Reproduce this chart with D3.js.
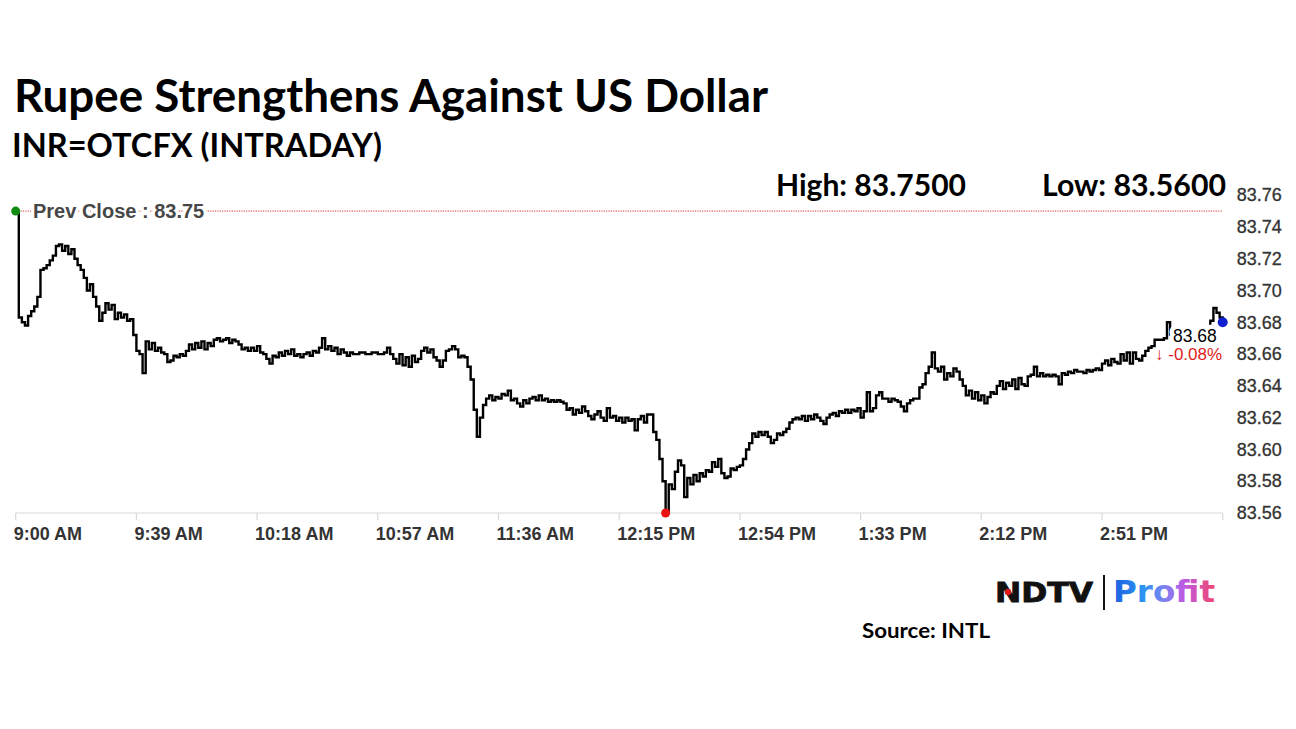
<!DOCTYPE html>
<html><head><meta charset="utf-8">
<script src="https://cdn.jsdelivr.net/npm/d3@7"></script>
<style>body{margin:0;background:#fff}svg{display:block}</style>
</head><body><svg id="c" width="1296" height="729"></svg>
<script>
const title = "Rupee Strengthens Against US Dollar";
const subtitle = "INR=OTCFX (INTRADAY)";
const sourceText = "Source: INTL";
const sessionStart = "09:00";   // one quote per minute from here
const rates = [
83.750,83.683,83.680,83.678,83.684,83.687,83.690,83.696,83.713,83.714,
83.716,83.719,83.722,83.728,83.729,83.725,83.728,83.723,83.726,83.720,
83.716,83.713,83.708,83.700,83.704,83.696,83.690,83.681,83.686,83.692,
83.688,83.691,83.682,83.686,83.683,83.685,83.681,83.682,83.672,83.662,
83.660,83.648,83.668,83.663,83.667,83.662,83.664,83.661,83.660,83.655,
83.656,83.659,83.658,83.660,83.659,83.662,83.666,83.663,83.667,83.664,
83.668,83.663,83.667,83.665,83.669,83.670,83.668,83.669,83.670,83.667,
83.669,83.668,83.666,83.663,83.664,83.662,83.664,83.662,83.665,83.661,
83.660,83.657,83.654,83.659,83.658,83.661,83.659,83.662,83.660,83.663,
83.659,83.660,83.658,83.660,83.661,83.659,83.662,83.661,83.664,83.670,
83.663,83.665,83.662,83.664,83.660,83.663,83.661,83.659,83.661,83.660,
83.660,83.661,83.661,83.660,83.660,83.661,83.661,83.660,83.660,83.661,
83.664,83.660,83.657,83.654,83.660,83.653,83.658,83.652,83.659,83.655,
83.657,83.662,83.664,83.661,83.663,83.658,83.656,83.652,83.656,83.662,
83.663,83.665,83.663,83.658,83.659,83.658,83.652,83.644,83.625,83.608,
83.620,83.628,83.632,83.634,83.631,83.633,83.632,83.635,83.634,83.637,
83.631,83.632,83.629,83.627,83.631,83.629,83.632,83.633,83.631,83.634,
83.631,83.632,83.630,83.631,83.630,83.631,83.630,83.629,83.625,83.626,
83.622,83.625,83.623,83.627,83.624,83.621,83.619,83.622,83.624,83.620,
83.618,83.626,83.620,83.621,83.618,83.620,83.617,83.620,83.618,83.619,
83.612,83.619,83.621,83.617,83.622,83.622,83.611,83.606,83.594,83.580,
83.560,83.578,83.575,83.586,83.593,83.590,83.570,83.582,83.578,83.584,
83.580,83.585,83.583,83.587,83.586,83.592,83.589,83.594,83.585,83.582,
83.583,83.588,83.587,83.589,83.590,83.594,83.600,83.604,83.610,83.608,
83.611,83.609,83.611,83.608,83.604,83.606,83.610,83.609,83.611,83.613,
83.617,83.619,83.620,83.619,83.621,83.618,83.621,83.619,83.622,83.620,
83.618,83.616,83.620,83.622,83.623,83.621,83.624,83.623,83.625,83.623,
83.625,83.624,83.626,83.620,83.624,83.636,83.624,83.626,83.634,83.636,
83.632,83.632,83.630,83.632,83.631,83.630,83.627,83.624,83.629,83.631,
83.632,83.632,83.639,83.641,83.648,83.652,83.661,83.651,83.649,83.652,
83.644,83.648,83.646,83.651,83.649,83.644,83.640,83.634,83.637,83.632,
83.636,83.631,83.634,83.629,83.633,83.636,83.635,83.640,83.643,83.638,
83.642,83.640,83.644,83.638,83.645,83.641,83.640,83.646,83.647,83.652,
83.646,83.648,83.646,83.647,83.646,83.647,83.646,83.641,83.648,83.647,
83.649,83.648,83.650,83.649,83.649,83.648,83.650,83.649,83.650,83.651,
83.650,83.654,83.656,83.653,83.657,83.655,83.654,83.660,83.656,83.661,
83.654,83.661,83.657,83.656,83.659,83.662,83.664,83.665,83.669,83.669,
83.669,83.670,83.680,83.672,83.672,83.671,83.672,83.671,83.672,83.672,
83.671,83.672,83.671,83.672,83.672,83.676,83.681,83.689,83.686,83.683,
83.680
];
const xTickTimes  = ["09:00","09:39","10:18","10:57","11:36","12:15","12:54","13:33","14:12","14:51","15:30"];
const xTickLabels = ["9:00 AM","9:39 AM","10:18 AM","10:57 AM","11:36 AM","12:15 PM","12:54 PM","1:33 PM","2:12 PM","2:51 PM",""];
const yTicks = [83.56,83.58,83.60,83.62,83.64,83.66,83.68,83.70,83.72,83.74,83.76];
const prevClose = 83.75;
const dayHigh = "83.7500";
const dayLow = "83.5600";
const lastLabel = "83.68";
const changeLabel = "\u2193 -0.08%";

const svg = d3.select("#c");
const parse = d3.timeParse("%H:%M");
const t0 = parse(sessionStart);
const data = rates.map((v, i) => ({ t: d3.timeMinute.offset(t0, i), v }));

const x = d3.scaleTime().domain([parse("09:00"), parse("15:30")]).range([15.7, 1222.7]);
const y = d3.scaleLinear().domain([83.56, 83.76]).range([513, 195.2]);

// defs
const defs = svg.append("defs");
const g = defs.append("linearGradient").attr("id", "pg")
  .attr("gradientUnits", "userSpaceOnUse").attr("x1", 1113).attr("x2", 1215).attr("y1", 0).attr("y2", 0);
[[0,"#1d5fe0"],[0.3,"#2c95f2"],[0.5,"#7b82f0"],[0.7,"#bf5ae2"],[1,"#f2456f"]]
  .forEach(([o,c]) => g.append("stop").attr("offset", o).attr("stop-color", c));

// titles
const fitText = (sel, w) => sel.attr("textLength", w).attr("lengthAdjust", "spacingAndGlyphs");
fitText(svg.append("text").attr("x", 14).attr("y", 112).text(title)
  .attr("font-family", "Lato, 'Open Sans', sans-serif").attr("font-weight", 700)
  .attr("font-size", 46).attr("fill", "#000"), 754);
fitText(svg.append("text").attr("x", 12).attr("y", 157).text(subtitle)
  .attr("font-family", "Lato, 'Open Sans', sans-serif").attr("font-weight", 700)
  .attr("font-size", 32).attr("fill", "#000"), 370);
fitText(svg.append("text").attr("x", 776).attr("y", 196).text("High: " + dayHigh)
  .attr("font-family", "Lato, 'Open Sans', sans-serif").attr("font-weight", 700)
  .attr("font-size", 30).attr("fill", "#000"), 190);
fitText(svg.append("text").attr("x", 1042).attr("y", 196).text("Low: " + dayLow)
  .attr("font-family", "Lato, 'Open Sans', sans-serif").attr("font-weight", 700)
  .attr("font-size", 30).attr("fill", "#000"), 184);

// prev close line
svg.append("line").attr("x1", x(data[0].t)).attr("x2", x.range()[1])
  .attr("y1", y(prevClose)).attr("y2", y(prevClose))
  .attr("stroke", "#e03030").attr("stroke-width", 1).attr("stroke-dasharray", "1.2,1.2");

// x axis
const xAxis = svg.append("g").attr("transform", "translate(0,513)");
xAxis.append("line").attr("x1", x.range()[0]).attr("x2", x.range()[1])
  .attr("stroke", "#d8d8d8").attr("stroke-width", 1.2);
xTickTimes.forEach((s, i) => {
  const xx = x(parse(s));
  xAxis.append("line").attr("x1", xx).attr("x2", xx).attr("y1", 0).attr("y2", 7)
    .attr("stroke", "#d8d8d8").attr("stroke-width", 1.2);
  xAxis.append("text").attr("x", xx - 2).attr("y", 27).text(xTickLabels[i])
    .attr("font-family", "'Liberation Sans', Arial, sans-serif").attr("font-weight", 700)
    .attr("font-size", 18).attr("fill", "#333");
});

// y axis labels (right)
const yAxis = d3.axisRight(y).tickValues(yTicks).tickFormat(d3.format(".2f")).tickSize(0).tickPadding(14);
const ya = svg.append("g").attr("transform", `translate(${x.range()[1]},0)`).call(yAxis);
ya.select(".domain").remove();
ya.selectAll("text").attr("font-family", "'Liberation Sans', Arial, sans-serif")
  .attr("font-size", 18).attr("fill", "#333").attr("stroke", "#333").attr("stroke-width", 0.3);

// price line
const line = d3.line().x(d => x(d.t)).y(d => y(d.v)).curve(d3.curveStepAfter);
svg.append("path").datum(data).attr("d", line).attr("fill", "none")
  .attr("stroke", "#000").attr("stroke-width", 2.4).attr("stroke-linejoin", "miter");

// halo labels
const halo = (sel, w) => sel.attr("stroke", "#fff").attr("stroke-width", w)
  .attr("stroke-linejoin", "round").attr("paint-order", "stroke");
halo(svg.append("text").attr("x", 33).attr("y", y(prevClose) + 7).text("Prev Close : " + d3.format(".2f")(prevClose))
  .attr("font-family", "'Liberation Sans', Arial, sans-serif").attr("font-weight", 700)
  .attr("font-size", 20).attr("fill", "#474747"), 6);
const last = data[data.length - 1];
halo(svg.append("text").attr("x", 1173).attr("y", 342).text(lastLabel)
  .attr("font-family", "'Liberation Sans', Arial, sans-serif")
  .attr("font-size", 17.5).attr("fill", "#000"), 9);
halo(svg.append("text").attr("x", 1155).attr("y", 359.5).text(changeLabel)
  .attr("font-family", "'Liberation Sans', Arial, sans-serif")
  .attr("font-size", 17).attr("fill", "#e01c1c"), 6);

// markers
const low = data.reduce((a, b) => b.v < a.v ? b : a);
svg.append("circle").attr("cx", x(data[0].t)).attr("cy", y(data[0].v)).attr("r", 4.5).attr("fill", "#118a11");
svg.append("circle").attr("cx", x(low.t)).attr("cy", y(low.v)).attr("r", 4.5).attr("fill", "#ee1111");
svg.append("circle").attr("cx", x(last.t)).attr("cy", y(last.v)).attr("r", 5).attr("fill", "#1020d0");

// logo
fitText(svg.append("text").attr("x", 995).attr("y", 602).text("NDTV")
  .attr("font-family", "'DejaVu Sans', sans-serif").attr("font-weight", 700)
  .attr("font-size", 26).attr("fill", "#111").attr("stroke", "#111").attr("stroke-width", 0.8), 98);
svg.append("circle").attr("cx", 1008).attr("cy", 592).attr("r", 3.2).attr("fill", "#e01818");
svg.append("line").attr("x1", 1104).attr("x2", 1104).attr("y1", 575).attr("y2", 610)
  .attr("stroke", "#111").attr("stroke-width", 2);
fitText(svg.append("text").attr("x", 1113).attr("y", 602).text("Profit")
  .attr("font-family", "'DejaVu Sans', sans-serif").attr("font-weight", 700)
  .attr("font-size", 30).attr("fill", "url(#pg)"), 102);

fitText(svg.append("text").attr("x", 862).attr("y", 638).text(sourceText)
  .attr("font-family", "Lato, 'Open Sans', sans-serif").attr("font-weight", 700)
  .attr("font-size", 21).attr("fill", "#000"), 128);
</script>
</body></html>
